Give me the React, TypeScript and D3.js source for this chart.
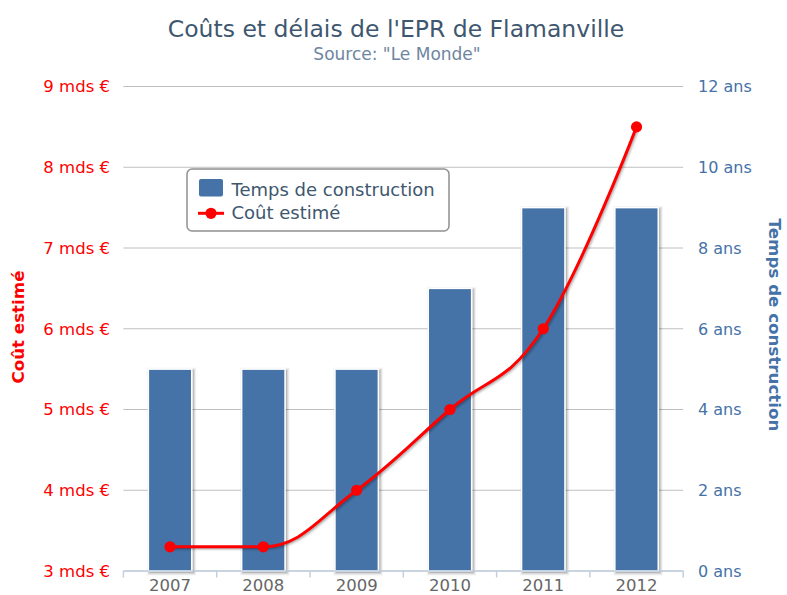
import React from 'react';
import * as d3 from 'd3';

const categories = ['2007', '2008', '2009', '2010', '2011', '2012'];
const constructionYears = [5, 5, 5, 7, 9, 9];
const estimatedCost = [3.3, 3.3, 4, 5, 6, 8.5];
const leftTicks = [3, 4, 5, 6, 7, 8, 9];
const rightTicks = [0, 2, 4, 6, 8, 10, 12];

const W = 787, H = 595;
const PL = 123.4, PR = 683.2, PT = 86.5, PB = 571;
const FONT = '"DejaVu Sans", "Lucida Grande", sans-serif';
const BLUE = '#4572A7';
const RED = '#FF0000';

function splinePath(pts: { x: number; y: number }[]) {
  const smoothing = 1.5, denom = smoothing + 1;
  const rc: ({ x: number; y: number } | null)[] = pts.map(() => null);
  let d = `M${pts[0].x},${pts[0].y}`;
  for (let i = 1; i < pts.length; i++) {
    const p = pts[i], last = pts[i - 1], next = pts[i + 1];
    let lcx = p.x, lcy = p.y;
    if (next) {
      lcx = (smoothing * p.x + last.x) / denom;
      lcy = (smoothing * p.y + last.y) / denom;
      const rcx = (smoothing * p.x + next.x) / denom;
      let rcy = (smoothing * p.y + next.y) / denom;
      if (rcx !== lcx) {
        const corr = ((rcy - lcy) * (rcx - p.x)) / (rcx - lcx) + p.y - rcy;
        lcy += corr; rcy += corr;
        if (lcy > last.y && lcy > p.y) { lcy = Math.max(last.y, p.y); rcy = 2 * p.y - lcy; }
        else if (lcy < last.y && lcy < p.y) { lcy = Math.min(last.y, p.y); rcy = 2 * p.y - lcy; }
        if (rcy > next.y && rcy > p.y) { rcy = Math.max(next.y, p.y); lcy = 2 * p.y - rcy; }
        else if (rcy < next.y && rcy < p.y) { rcy = Math.min(next.y, p.y); lcy = 2 * p.y - rcy; }
      }
      rc[i] = { x: rcx, y: rcy };
    }
    const lr = rc[i - 1] || last;
    d += ` C${lr.x},${lr.y} ${lcx},${lcy} ${p.x},${p.y}`;
  }
  return d;
}

export default function App() {
  const x = d3.scaleBand<string>().domain(categories).range([PL, PR]);
  const yL = d3.scaleLinear().domain([3, 9]).range([PB, PT]);
  const yR = d3.scaleLinear().domain([0, 12]).range([PB, PT]);
  const bw = 43.4;
  const pts = categories.map((c, i) => ({ x: (x(c) as number) + x.bandwidth() / 2, y: yL(estimatedCost[i]) }));
  const path = splinePath(pts);
  const boundaries = d3.range(categories.length + 1).map((i) => PL + i * x.step());

  return (
    <svg width={W} height={H} style={{ position: 'absolute', left: 0, top: 0, background: '#fff' }} fontFamily={FONT}>
      <rect x={0} y={0} width={W} height={H} fill="#fff" />
      {/* title */}
      <text x={396} y={37} textAnchor="middle" fontSize={23.5} fill="#3E576F">Coûts et délais de l'EPR de Flamanville</text>
      <text x={397} y={60} textAnchor="middle" fontSize={17} fill="#6D869F">Source: "Le Monde"</text>

      {/* gridlines */}
      {leftTicks.map((t) => (
        <line key={t} x1={PL} x2={PR} y1={yL(t)} y2={yL(t)} stroke="#C0C0C0" strokeWidth={1} />
      ))}

      {/* bars with shadow */}
      {categories.map((c, i) => {
        const cx = (x(c) as number) + x.bandwidth() / 2;
        const top = yR(constructionYears[i]);
        return (
          <g key={c}>
            {[1, 2, 3].map((k) => (
              <rect key={k} x={cx - bw / 2} y={top} width={bw} height={PB - top}
                fill="none" stroke="#000" strokeOpacity={0.05 * k} strokeWidth={(7 - 2 * k) * 1.2}
                transform="translate(1.5,1.5)" />
            ))}
            <rect x={cx - bw / 2} y={top} width={bw} height={PB - top} fill={BLUE} stroke="#fff" strokeWidth={1.5} />
          </g>
        );
      })}

      {/* x axis */}
      <line x1={PL} x2={PR} y1={PB} y2={PB} stroke="#C0D0E0" strokeWidth={1.5} />
      {boundaries.map((b, i) => (
        <line key={i} x1={b} x2={b} y1={PB} y2={PB + 6.5} stroke="#C0D0E0" strokeWidth={1.5} />
      ))}
      {categories.map((c) => (
        <text key={c} x={(x(c) as number) + x.bandwidth() / 2} y={591} textAnchor="middle" fontSize={16.5} fill="#666">{c}</text>
      ))}

      {/* left axis labels */}
      {leftTicks.map((t) => (
        <text key={t} x={110} y={yL(t)} dy="0.36em" textAnchor="end" fontSize={16.5} fill={RED}>{`${t} mds €`}</text>
      ))}
      <text transform={`translate(24,327) rotate(-90)`} textAnchor="middle" fontSize={16.7} fontWeight="bold" fill={RED}>Coût estimé</text>

      {/* right axis labels */}
      {rightTicks.map((t) => (
        <text key={t} x={698} y={yR(t)} dy="0.36em" textAnchor="start" fontSize={16} fill={BLUE}>{`${t} ans`}</text>
      ))}
      <text transform={`translate(769,325) rotate(90)`} textAnchor="middle" fontSize={16.7} fontWeight="bold" fill={BLUE}>Temps de construction</text>

      {/* line with shadow */}
      {[1, 2, 3].map((k) => (
        <path key={k} d={path} fill="none" stroke="#000" strokeOpacity={0.05 * k} strokeWidth={(7 - 2 * k) * 1.2} transform="translate(1.5,1.5)" />
      ))}
      <path d={path} fill="none" stroke={RED} strokeWidth={3} />
      {pts.map((p, i) => (
        <circle key={i} cx={p.x} cy={p.y} r={5.6} fill={RED} />
      ))}

      {/* legend */}
      <rect x={187} y={169} width={262} height={62} rx={5} fill="#fff" stroke="#909090" strokeWidth={1.5} />
      <rect x={199} y={179} width={24} height={17.5} rx={2} fill={BLUE} />
      <text x={231.5} y={195.5} fontSize={18} fill="#3E576F">Temps de construction</text>
      <line x1={198} x2={224} y1={213.3} y2={213.3} stroke={RED} strokeWidth={3} />
      <circle cx={211} cy={213.3} r={5.6} fill={RED} />
      <text x={231.5} y={219} fontSize={18} fill="#3E576F">Coût estimé</text>
    </svg>
  );
}
